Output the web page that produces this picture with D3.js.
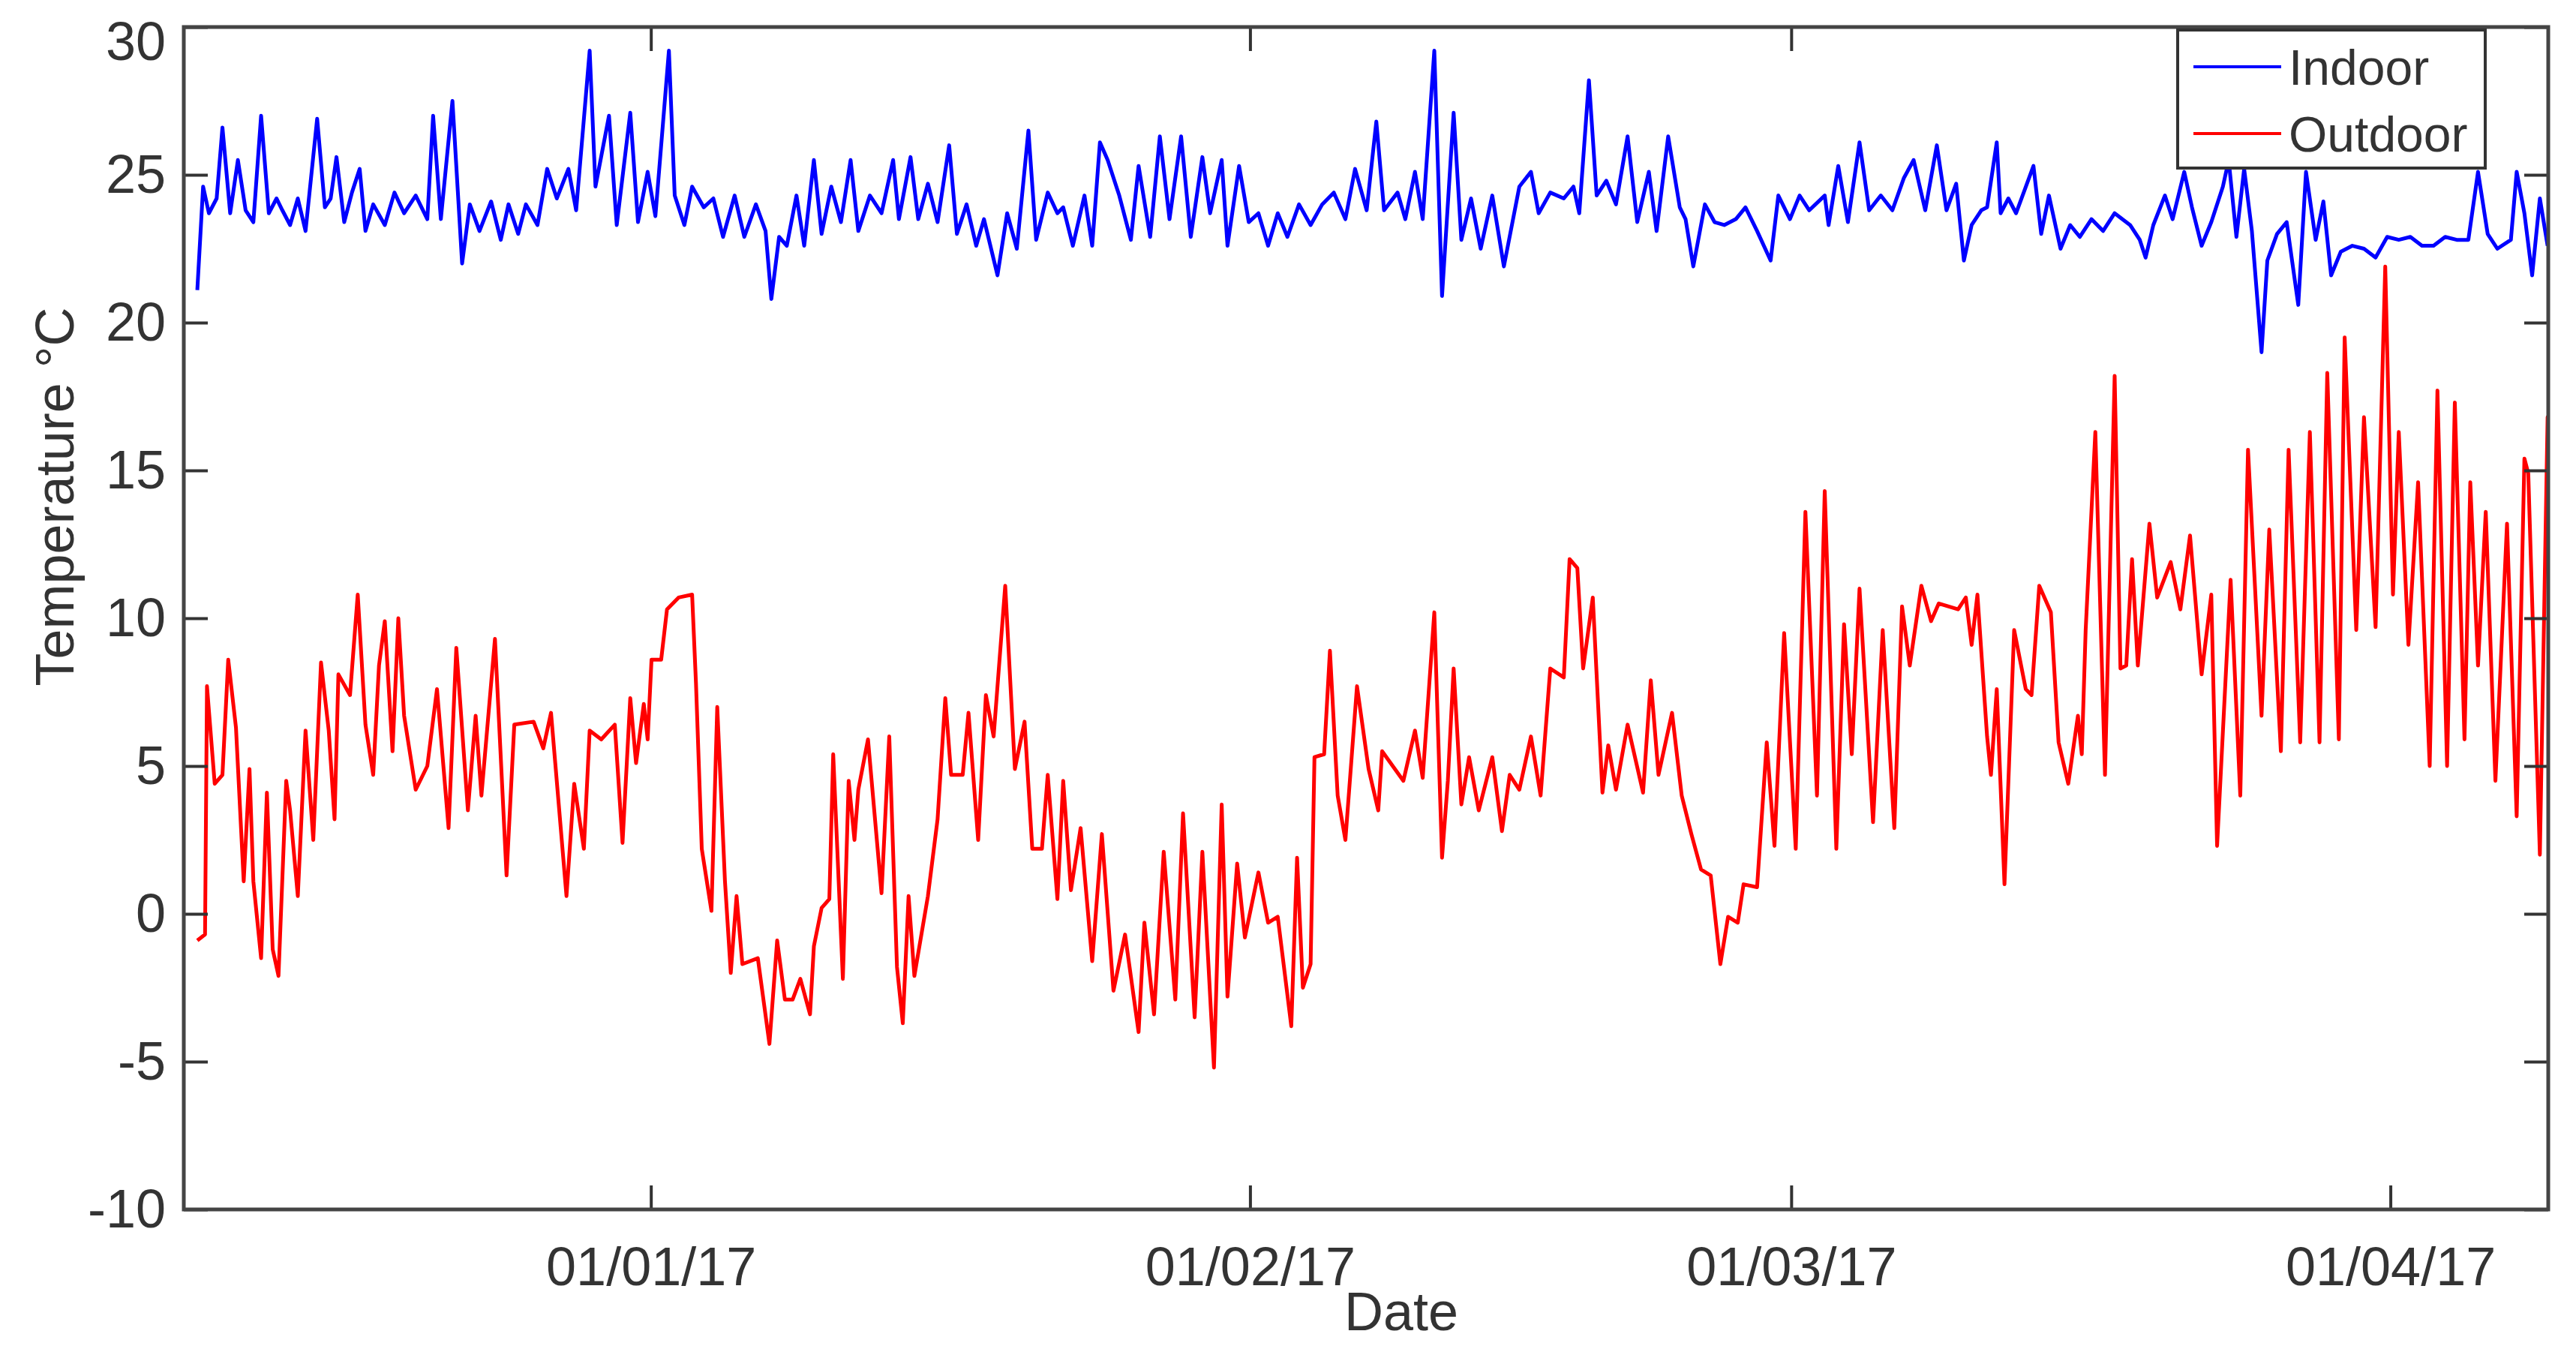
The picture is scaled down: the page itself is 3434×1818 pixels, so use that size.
<!DOCTYPE html>
<html>
<head>
<meta charset="utf-8">
<script src="https://cdn.jsdelivr.net/npm/d3@7"></script>
<style>
  body { margin: 0; background: #fff; }
  text { font-family: Arial, "Liberation Sans", sans-serif; fill: #333; }
</style>
</head>
<body>
<svg id="chart" width="3434" height="1818"></svg>
<script>
// [day offset from left edge of axis, temperature °C]
const indoor = [
  [0.7,21.1],[1.0,24.6],[1.3,23.7],[1.7,24.2],[2.0,26.6],[2.4,23.7],[2.8,25.5],[3.2,23.8],[3.6,23.4],[4.0,27.0],
  [4.4,23.7],[4.8,24.2],[5.1,23.8],[5.5,23.3],[5.9,24.2],[6.3,23.1],[6.9,26.9],[7.3,23.9],[7.6,24.2],[7.9,25.6],
  [8.3,23.4],[8.7,24.4],[9.1,25.2],[9.4,23.1],[9.8,24.0],[10.4,23.3],[10.9,24.4],[11.4,23.7],[12.0,24.3],[12.6,23.5],
  [12.9,27.0],[13.3,23.5],[13.9,27.5],[14.4,22.0],[14.8,24.0],[15.3,23.1],[15.9,24.1],[16.4,22.8],[16.8,24.0],[17.3,23.0],
  [17.7,24.0],[18.3,23.3],[18.8,25.2],[19.3,24.2],[19.9,25.2],[20.3,23.8],[21.0,29.2],[21.3,24.6],[22.0,27.0],[22.4,23.3],
  [23.1,27.1],[23.5,23.4],[24.0,25.1],[24.4,23.6],[25.1,29.2],[25.4,24.3],[25.9,23.3],[26.3,24.6],[26.9,23.9],[27.4,24.2],
  [27.9,22.9],[28.5,24.3],[29.0,22.9],[29.6,24.0],[30.1,23.1],[30.4,20.8],[30.8,22.9],[31.2,22.6],
  [31.7,24.3],[32.1,22.6],[32.6,25.5],[33.0,23.0],[33.5,24.6],[34.0,23.4],[34.5,25.5],[34.9,23.1],[35.5,24.3],[36.1,23.7],
  [36.7,25.5],[37.0,23.5],[37.6,25.6],[38.0,23.5],[38.5,24.7],[39.0,23.4],[39.6,26.0],[40.0,23.0],[40.5,24.0],[41.0,22.6],
  [41.4,23.5],[42.1,21.6],[42.6,23.7],[43.1,22.5],[43.7,26.5],[44.1,22.8],[44.7,24.4],[45.2,23.7],[45.5,23.9],[46.0,22.6],
  [46.6,24.3],[47.0,22.6],[47.4,26.1],[47.8,25.5],[48.4,24.3],[49.0,22.8],[49.4,25.3],[50.0,22.9],[50.5,26.3],[51.0,23.5],
  [51.6,26.3],[52.1,22.9],[52.7,25.6],[53.1,23.7],[53.7,25.5],[54.0,22.6],[54.6,25.3],[55.1,23.4],[55.6,23.7],[56.1,22.6],
  [56.6,23.7],[57.1,22.9],[57.7,24.0],[58.3,23.3],[58.9,24.0],[59.5,24.4],[60.1,23.5],[60.6,25.2],[61.2,23.8],[61.7,26.8],
  [62.1,23.8],[62.8,24.4],[63.2,23.5],[63.7,25.1],[64.1,23.5],[64.7,29.2],[65.1,20.9],[65.7,27.1],[66.1,22.8],[66.6,24.2],
  [67.1,22.5],[67.7,24.3],[68.3,21.9],[69.1,24.6],[69.7,25.1],[70.1,23.7],[70.7,24.4],[71.4,24.2],[71.9,24.6],[72.2,23.7],
  [72.7,28.2],[73.1,24.3],[73.6,24.8],[74.1,24.0],[74.7,26.3],[75.2,23.4],[75.8,25.1],[76.2,23.1],[76.8,26.3],[77.4,23.9],
  [77.7,23.5],[78.1,21.9],[78.7,24.0],[79.2,23.4],[79.7,23.3],[80.3,23.5],[80.8,23.9],[81.4,23.1],[82.1,22.1],[82.5,24.3],
  [83.1,23.5],[83.6,24.3],[84.1,23.8],[84.9,24.3],[85.1,23.3],[85.6,25.3],[86.1,23.4],[86.7,26.1],[87.2,23.8],[87.8,24.3],
  [88.4,23.8],[89.0,24.9],[89.5,25.5],[90.1,23.8],[90.7,26.0],[91.2,23.8],[91.7,24.7],[92.1,22.1],[92.5,23.3],[93.0,23.8],
  [93.3,23.9],[93.8,26.1],[94.0,23.7],[94.4,24.2],[94.8,23.7],[95.7,25.3],[96.1,23.0],[96.5,24.3],[97.1,22.5],[97.6,23.3],
  [98.1,22.9],[98.7,23.5],[99.3,23.1],[99.9,23.7],[100.7,23.3],[101.2,22.8],[101.5,22.2],[101.9,23.3],[102.5,24.3],[102.9,23.5],
  [103.5,25.1],[103.9,23.9],[104.4,22.6],[104.9,23.4],[105.5,24.6],[105.8,25.5],[106.2,22.9],[106.6,25.2],[107.0,23.1],[107.5,19.0],
  [107.8,22.1],[108.3,23.0],[108.8,23.4],[109.4,20.6],[109.8,25.1],[110.3,22.8],[110.7,24.1],[111.1,21.6],[111.6,22.4],[112.2,22.6],
  [112.8,22.5],[113.4,22.2],[114.0,22.9],[114.6,22.8],[115.2,22.9],[115.8,22.6],[116.4,22.6],[117.0,22.9],[117.6,22.8],[118.2,22.8],
  [118.7,25.1],[119.2,23.0],[119.7,22.5],[120.4,22.8],[120.7,25.1],[121.1,23.7],[121.5,21.6],[121.9,24.2],[122.3,22.6]
];

const outdoor = [
  [0.7,-0.9],[1.1,-0.7],[1.2,7.7],[1.6,4.4],[2.0,4.7],[2.3,8.6],[2.7,6.3],[3.1,1.1],[3.4,4.9],[3.6,1.1],
  [4.0,-1.5],[4.3,4.1],[4.6,-1.2],[4.9,-2.1],[5.3,4.5],[5.5,3.5],[5.9,0.6],[6.3,6.2],[6.7,2.5],[7.1,8.5],
  [7.5,6.2],[7.8,3.2],[8.0,8.1],[8.6,7.4],[9.0,10.8],[9.4,6.4],[9.8,4.7],[10.1,8.4],[10.4,9.9],[10.8,5.5],
  [11.1,10.0],[11.4,6.7],[12.0,4.2],[12.6,5.0],[13.1,7.6],[13.7,2.9],[14.1,9.0],[14.7,3.5],[15.1,6.7],[15.4,4.0],
  [16.1,9.3],[16.7,1.3],[17.1,6.4],[18.1,6.5],[18.6,5.6],[19.0,6.8],[19.8,0.6],[20.2,4.4],[20.7,2.2],[21.0,6.2],
  [21.6,5.9],[22.3,6.4],[22.7,2.4],[23.1,7.3],[23.4,5.1],[23.8,7.1],[24.0,5.9],[24.2,8.6],[24.7,8.6],[25.0,10.3],
  [25.6,10.7],[26.3,10.8],[26.5,7.8],[26.8,2.2],[27.3,0.1],[27.6,7.0],[28.0,1.1],[28.3,-2.0],[28.6,0.6],[28.9,-1.7],
  [29.7,-1.5],[30.3,-4.4],[30.7,-0.9],[31.1,-2.9],
  [31.5,-2.9],[31.9,-2.2],[32.4,-3.4],[32.6,-1.1],[33.0,0.2],[33.4,0.5],[33.6,5.4],[34.1,-2.2],[34.4,4.5],[34.7,2.5],
  [34.9,4.2],[35.4,5.9],[36.1,0.7],[36.5,6.0],[36.9,-1.8],[37.2,-3.7],[37.5,0.6],[37.8,-2.1],[38.5,0.6],[39.0,3.2],
  [39.4,7.3],[39.7,4.7],[40.3,4.7],[40.6,6.8],[41.1,2.5],[41.5,7.4],[41.9,6.0],[42.5,11.1],[43.0,4.9],[43.5,6.5],
  [43.9,2.2],[44.4,2.2],[44.7,4.7],[45.2,0.5],[45.5,4.5],[45.9,0.8],[46.4,2.9],[47.0,-1.6],[47.5,2.7],[48.1,-2.6],
  [48.7,-0.7],[49.4,-4.0],[49.7,-0.3],[50.2,-3.4],[50.7,2.1],[51.3,-2.9],[51.7,3.4],[52.3,-3.5],[52.7,2.1],[53.3,-5.2],
  [53.7,3.7],[54.0,-2.8],[54.5,1.7],[54.9,-0.8],[55.6,1.4],[56.1,-0.3],[56.6,-0.1],[57.3,-3.8],[57.6,1.9],[57.9,-2.5],
  [58.3,-1.7],[58.5,5.3],[59.0,5.4],[59.3,8.9],[59.7,4.0],[60.1,2.5],[60.7,7.7],[61.3,4.9],[61.8,3.5],[62.0,5.5],
  [63.1,4.5],[63.7,6.2],[64.1,4.6],[64.7,10.2],[65.1,1.9],[65.4,4.5],[65.7,8.3],[66.1,3.7],[66.5,5.3],[67.0,3.5],
  [67.7,5.3],[68.2,2.8],[68.6,4.7],[69.1,4.2],[69.7,6.0],[70.2,4.0],[70.7,8.3],[71.4,8.0],[71.7,12.0],[72.1,11.7],
  [72.4,8.3],[72.9,10.7],[73.4,4.1],[73.7,5.7],[74.1,4.2],[74.7,6.4],[75.5,4.1],[75.9,7.9],[76.3,4.7],[77.0,6.8],
  [77.5,4.0],[78.0,2.7],[78.5,1.5],[79.0,1.3],[79.5,-1.7],[79.9,-0.1],[80.4,-0.3],[80.7,1.0],[81.4,0.9],[81.9,5.8],
  [82.3,2.3],[82.8,9.5],[83.4,2.2],[83.9,13.6],[84.5,4.0],[84.9,14.3],[85.5,2.2],[85.9,9.8],[86.3,5.4],[86.7,11.0],
  [87.4,3.1],[87.9,9.6],[88.5,2.9],[88.9,10.4],[89.3,8.4],[89.9,11.1],[90.4,9.9],[90.8,10.5],[91.8,10.3],[92.2,10.7],
  [92.5,9.1],[92.8,10.8],[93.3,6.0],[93.5,4.7],[93.8,7.6],[94.2,1.0],[94.7,9.6],[95.3,7.6],[95.6,7.4],[96.0,11.1],
  [96.6,10.2],[97.0,5.8],[97.5,4.4],[98.0,6.7],[98.2,5.4],[98.4,9.6],[98.9,16.3],[99.4,4.7],[99.9,18.2],[100.2,8.3],
  [100.5,8.4],[100.8,12.0],[101.1,8.4],[101.7,13.2],[102.1,10.7],[102.8,11.9],[103.3,10.3],[103.8,12.8],[104.4,8.1],[104.9,10.8],
  [105.2,2.3],[105.9,11.3],[106.4,4.0],[106.8,15.7],[107.5,6.7],[107.9,13.0],[108.5,5.5],[108.9,15.7],[109.5,5.8],[110.0,16.3],
  [110.5,5.8],[110.9,18.3],[111.5,5.9],[111.8,19.5],[112.4,9.6],[112.8,16.8],[113.4,9.7],[113.9,21.9],[114.3,10.8],[114.6,16.3],
  [115.1,9.1],[115.6,14.6],[116.2,5.0],[116.6,17.7],[117.1,5.0],[117.5,17.3],[118.0,5.9],[118.3,14.6],[118.7,8.4],[119.1,13.6],
  [119.6,4.5],[120.2,13.2],[120.7,3.3],[121.1,15.4],[121.3,14.9],[121.9,2.0],[122.3,16.8],[122.4,14.3]
];

const xTickDates = [new Date(2017,0,1), new Date(2017,1,1), new Date(2017,2,1), new Date(2017,3,1)];
const yTicks = [-10,-5,0,5,10,15,20,25,30];
const seriesNames = ['Indoor', 'Outdoor'];
const seriesColors = ['#0000ff', '#ff0000'];

const margin = { top: 36, right: 37, bottom: 206, left: 245 };
const W = 3434, H = 1818;
const width = W - margin.left - margin.right;
const height = H - margin.top - margin.bottom;

const start = new Date(2016, 11, 7, 20);
const end = new Date(2017, 3, 9, 4);
const toDate = d => new Date(start.getTime() + d * 86400000);

const svg = d3.select('#chart');
const g = svg.append('g').attr('transform', `translate(${margin.left},${margin.top})`);

const x = d3.scaleTime().domain([start, end]).range([0, width]);
const y = d3.scaleLinear().domain([-10, 30]).range([height, 0]);

const line = d3.line()
  .x(d => x(toDate(d[0])))
  .y(d => y(d[1]));

g.append('defs').append('clipPath').attr('id', 'clip')
  .append('rect').attr('width', width).attr('height', height);

[indoor, outdoor].forEach((data, i) => {
  g.append('path')
    .datum(data)
    .attr('clip-path', 'url(#clip)')
    .attr('fill', 'none')
    .attr('stroke', seriesColors[i])
    .attr('stroke-width', 5)
    .attr('stroke-linejoin', 'round')
    .attr('d', line);
});

const tickLen = 32;
const fmt = d3.timeFormat('%d/%m/%y');

const styleAxis = sel => {
  sel.select('.domain').remove();
  sel.selectAll('.tick line').attr('stroke', '#333').attr('stroke-width', 4);
  sel.selectAll('.tick text').style('font-size', '72px').attr('fill', '#333');
};

g.append('g').attr('transform', `translate(0,${height})`)
  .call(d3.axisBottom(x).tickValues(xTickDates).tickFormat(fmt).tickSize(-tickLen).tickPadding(50))
  .call(styleAxis);
g.append('g')
  .call(d3.axisTop(x).tickValues(xTickDates).tickFormat('').tickSize(-tickLen))
  .call(styleAxis);
g.append('g')
  .call(d3.axisLeft(y).tickValues(yTicks).tickFormat(d => String(d)).tickSize(-tickLen).tickPadding(24))
  .call(styleAxis)
  .selectAll('.tick text')
  .filter(d => d === 30)
  .attr('dy', '0.6em');
g.append('g').attr('transform', `translate(${width},0)`)
  .call(d3.axisRight(y).tickValues(yTicks).tickFormat('').tickSize(-tickLen))
  .call(styleAxis);

// frame
g.append('rect')
  .attr('width', width).attr('height', height)
  .attr('fill', 'none').attr('stroke', '#444').attr('stroke-width', 5);

// axis titles
svg.append('text')
  .attr('x', 1868).attr('y', 1773)
  .attr('text-anchor', 'middle')
  .style('font-size', '72px')
  .text('Date');
svg.append('text')
  .attr('transform', 'translate(98,662) rotate(-90)')
  .attr('text-anchor', 'middle')
  .style('font-size', '72px')
  .text('Temperature °C');

// legend
const lg = svg.append('g').attr('transform', 'translate(2903,40)');
lg.append('rect').attr('width', 410).attr('height', 184)
  .attr('fill', '#fff').attr('stroke', '#333').attr('stroke-width', 4);
seriesNames.forEach((name, i) => {
  const ly = 49 + i * 89;
  lg.append('line').attr('x1', 21).attr('x2', 138).attr('y1', ly).attr('y2', ly)
    .attr('stroke', seriesColors[i]).attr('stroke-width', 4);
  lg.append('text').attr('x', 148).attr('y', ly + 24)
    .style('font-size', '66px').text(name);
});
</script>
</body>
</html>
